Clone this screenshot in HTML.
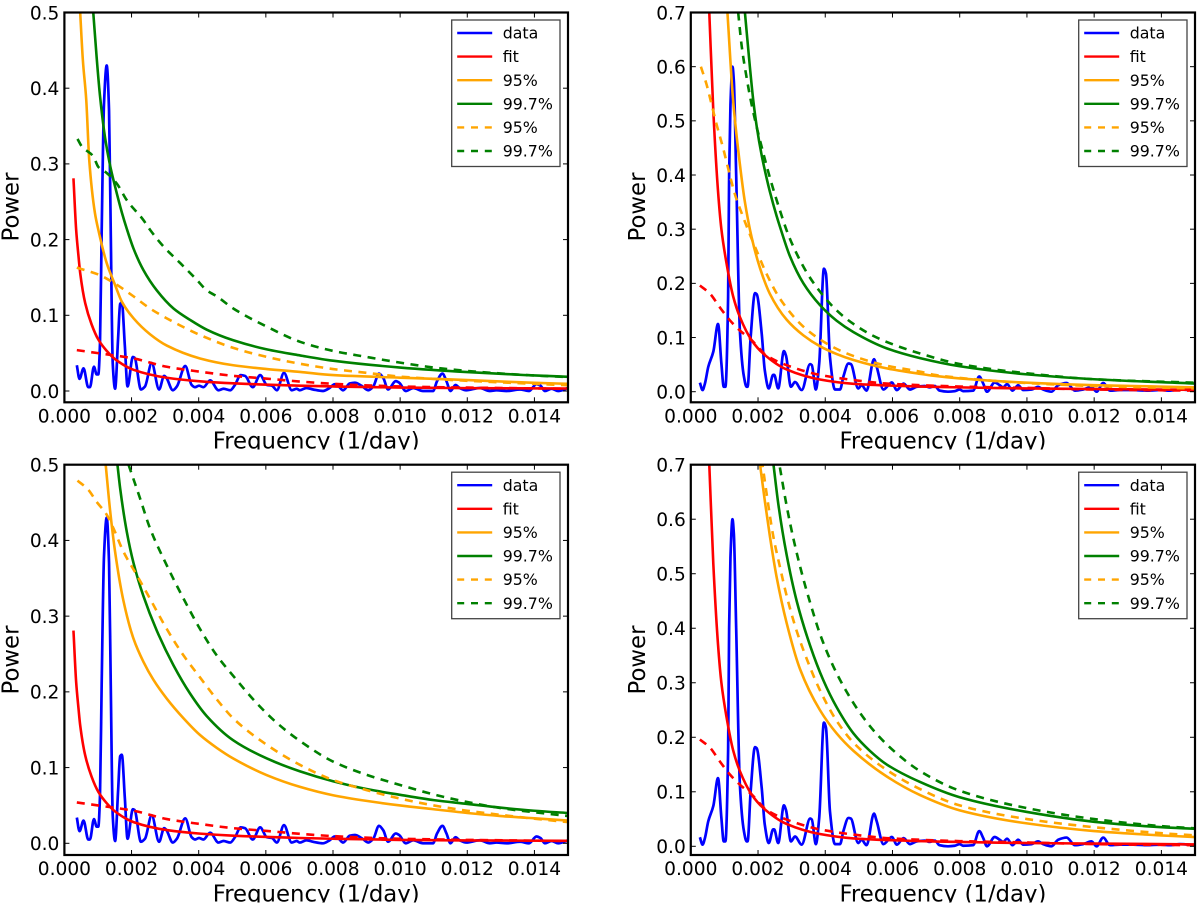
<!DOCTYPE html>
<html lang="en">
<head>
<meta charset="utf-8">
<title>Power spectra with significance levels</title>
<style>
html,body{margin:0;padding:0;background:#fff;width:1200px;height:907px;overflow:hidden}
svg{display:block;filter:blur(.35px)}
text{font-family:"DejaVu Sans","Liberation Sans",sans-serif;fill:#000}
</style>
</head>
<body>
<svg id="figure" xmlns="http://www.w3.org/2000/svg" width="1200" height="907" viewBox="0 0 1200 907"></svg>
<script>
// ---------- tick labels ----------
const xTickValues = [0, 0.002, 0.004, 0.006, 0.008, 0.010, 0.012, 0.014];
const xTickLabels = ["0.000", "0.002", "0.004", "0.006", "0.008", "0.010", "0.012", "0.014"];
const yTickValuesLeft = [0, 0.1, 0.2, 0.3, 0.4, 0.5];
const yTickLabelsLeft = ["0.0", "0.1", "0.2", "0.3", "0.4", "0.5"];
const yTickValuesRight = [0, 0.1, 0.2, 0.3, 0.4, 0.5, 0.6, 0.7];
const yTickLabelsRight = ["0.0", "0.1", "0.2", "0.3", "0.4", "0.5", "0.6", "0.7"];
const legendLabels = ["data", "fit", "95%", "99.7%", "95%", "99.7%"];

// ---------- data periodogram, left column ----------
const dataFreqLeft = [.00037,.00045,.00057,.00071,.00076,.00088,.00096,.00101,.00106,.00111,.00118,.00126,.00133,.00138,.00144,.00151,.00160,.00166,.00171,.00180,.00188,.00204,.00209,.00228,.0024,.0026,.00282,.00297,.00303,.00323,.00335,.0036,.00379,.00389,.00401,.00414,.00434,.00459,.00474,.00494,.00508,.00525,.00538,.00561,.00583,.00603,.00618,.00633,.00654,.00677,.00692,.00701,.00721,.00741,.0077,.0079,.00805,.00815,.0083,.0085,.00865,.00885,.00905,.0092,.00937,.0095,.00964,.00987,.00997,.01017,.01039,.01068,.01098,.0111,.01126,.01138,.0115,.01165,.01177,.01197,.01237,.01267,.01287,.01317,.01357,.01384,.01406,.01418,.01431,.01451,.01471,.015];
const dataPowerLeft = [.034,.016,.030,.005,.005,.032,.022,.022,.063,.21,.38,.43,.37,.212,.036,.003,.07,.115,.117,.06,.006,.045,.044,.002,.006,.037,.002,.020,.018,.001,.006,.033,.008,.005,.007,.005,.014,.001,.003,.001,.008,.021,.020,.005,.021,.008,.007,.001,.024,.001,.003,.001,.004,.002,.000,.004,.009,.007,.001,.010,.011,.007,.001,.006,.023,.017,.002,.013,.011,.000,.004,.000,.000,.013,.023,.013,.000,.008,.004,.001,.004,.000,.001,.000,.002,.000,.009,.007,.000,.003,.000,.004];

// ---------- data periodogram, right column ----------
const dataFreqRight = [.00027,.00035,.00042,.00052,.00067,.00081,.00091,.00098,.00103,.00111,.00114,.00118,.00124,.00128,.00135,.00146,.00158,.00166,.00169,.00178,.00191,.00196,.00211,.0022,.00232,.00245,.00248,.0026,.00277,.00283,.00298,.0031,.0033,.00355,.0036,.00372,.00382,.00396,.00402,.00414,.00429,.00444,.00454,.00469,.00476,.00498,.00508,.00523,.00545,.00553,.00573,.00598,.00613,.00633,.00652,.00672,.00696,.0071,.00726,.0074,.00765,.00785,.008,.0081,.0084,.00858,.0087,.00881,.00904,.00919,.00929,.00941,.00957,.00974,.00989,.01014,.01033,.01048,.01073,.01093,.01118,.01143,.01167,.01192,.01207,.01227,.01247,.01277,.01316,.01356,.01396,.01426,.01455,.015];
const dataPowerRight = [.0166,.003,.015,.046,.074,.125,.052,.009,.009,.175,.40,.53,.60,.574,.40,.113,.028,.009,.009,.10,.182,.18,.107,.04,.006,.031,.031,.006,.075,.067,.009,.018,.003,.051,.049,.004,.052,.227,.218,.064,.004,.004,.028,.052,.051,.006,.012,.002,.06,.046,.004,.017,.003,.015,.004,.009,.0105,.008,.0105,.002,.000,.001,.004,.001,.002,.028,.015,.000,.017,.012,.008,.014,.002,.012,.003,.004,.009,.004,.000,.012,.016,.002,.004,.009,.000,.016,.002,.003,.003,.002,.003,.002,.004,.002];

// ---------- fit curves ----------
const fitFreqLeft = [.00027,.00035,.00042,.00047,.00062,.00081,.00101,.00126,.00151,.00206,.00305,.00404,.00503,.00702,.008,.010,.012,.015];
const fitPowerLeft = [.281,.213,.178,.156,.116,.088,.068,.053,.042,.028,.0175,.0128,.0101,.007,.006,.0045,.0038,.0033];
const fitDashFreqLeft = [.00037,.00100,.00206,.00305,.00404,.00503,.00603,.00702,.008,.010,.012,.015];
const fitDashPowerLeft = [.054,.05,.043,.032,.0255,.02,.0163,.0125,.0095,.006,.0045,.003];
const fitFreqRight = [.00055,.00067,.00081,.00091,.00106,.00126,.00146,.00181,.00215,.00285,.00384,.00484,.00583,.00682,.008,.010,.012,.015];
const fitPowerRight = [.7,.518,.37,.30,.238,.176,.138,.095,.0706,.041,.0225,.0145,.0115,.0095,.008,.006,.005,.0035];
const fitDashFreqRight = [.00027,.00057,.00086,.00116,.00146,.00181,.00225,.00285,.00384,.00484,.00583,.00682,.008,.010,.012,.015];
const fitDashPowerRight = [.196,.181,.156,.132,.113,.095,.067,.049,.031,.0215,.015,.012,.0095,.007,.004,.002];

// ---------- panel A thresholds ----------
const orangeFreqA = [.00047,.00055,.00065,.00074,.00091,.00101,.00126,.00151,.00171,.00206,.00255,.00305,.00404,.00503,.00603,.00702,.008,.010,.012,.014,.015];
const orangePowerA = [.5,.437,.385,.305,.235,.213,.169,.14,.118,.096,.075,.06,.043,.034,.029,.0252,.021,.0176,.0145,.0108,.0095];
const greenFreqA = [.00086,.00096,.00106,.00121,.00136,.00151,.00171,.00186,.00206,.00235,.00275,.00325,.00374,.00424,.00503,.00603,.00702,.008,.010,.012,.014,.015];
const greenPowerA = [.5,.441,.39,.335,.298,.27,.236,.214,.188,.16,.133,.109,.094,.081,.067,.055,.047,.04,.031,.025,.0205,.0188];
const orangeDashFreqA = [.00037,.00106,.00141,.00171,.00206,.00255,.00305,.00404,.00503,.00603,.00702,.008,.009,.010,.011,.012,.014,.015];
const orangeDashPowerA = [.163,.153,.1445,.136,.125,.109,.096,.074,.057,.045,.036,.029,.024,.019,.016,.0135,.0095,.0075];
const greenDashFreqA = [.00039,.00052,.00086,.00101,.00126,.00156,.00186,.00235,.00255,.00295,.00345,.00394,.00424,.00454,.00503,.00603,.00702,.008,.009,.010,.011,.012,.014,.015];
const greenDashPowerA = [.333,.323,.31,.296,.288,.274,.252,.226,.213,.191,.169,.147,.133,.125,.109,.085,.065,.053,.045,.0375,.031,.0265,.0205,.0185];

// ---------- panel B thresholds ----------
const orangeFreqB = [.00109,.00126,.00146,.00161,.00181,.00206,.00235,.00285,.00335,.00384,.00434,.00484,.00583,.00682,.00721,.008,.010,.012,.015];
const orangePowerB = [.7,.537,.42,.35,.285,.228,.181,.133,.104,.084,.0695,.0585,.043,.033,.0295,.0245,.0166,.012,.008];
const greenFreqB = [.00161,.00176,.00186,.00196,.00211,.00226,.00235,.00255,.00265,.00295,.00335,.00384,.00434,.00484,.00583,.00682,.008,.010,.012,.015];
const greenPowerB = [.7,.598,.537,.49,.436,.393,.37,.325,.305,.25,.2,.16,.131,.11,.08,.062,.047,.032,.023,.015];
const orangeDashFreqB = [.0003,.00047,.00062,.00076,.00096,.00116,.00131,.00151,.00176,.00196,.00225,.00265,.00335,.00404,.00464,.00533,.00583,.00682,.00721,.008,.010,.012,.015];
const orangeDashPowerB = [.6,.567,.53,.495,.45,.4,.365,.33,.29,.26,.218,.172,.12,.089,.0706,.056,.048,.037,.0315,.0255,.016,.0105,.006];
const greenDashFreqB = [.00141,.00151,.00166,.00181,.0022,.0024,.00265,.00285,.00305,.00345,.00384,.00434,.00484,.00543,.00603,.00682,.008,.010,.012,.015];
const greenDashPowerB = [.7,.64,.58,.53,.43,.385,.335,.298,.268,.22,.185,.15,.125,.103,.087,.0706,.051,.034,.023,.0166];

// ---------- panel C thresholds ----------
const orangeFreqC = [.00123,.00136,.00151,.00176,.00206,.00235,.00265,.00305,.00355,.00404,.00454,.00503,.00603,.00702,.008,.009,.010,.011,.012,.013,.014,.015];
const orangePowerC = [.5,.44,.385,.32,.27,.24,.216,.191,.165,.143,.126,.112,.09,.0745,.0635,.056,.05,.045,.04,.036,.033,.03];
const greenFreqC = [.00158,.00166,.00186,.00206,.00235,.00275,.00325,.00374,.00424,.00503,.00603,.00702,.008,.009,.010,.011,.012,.013,.014,.015];
const greenPowerC = [.5,.469,.411,.37,.327,.281,.235,.198,.168,.136,.112,.095,.082,.0717,.064,.057,.052,.047,.043,.04];
const orangeDashFreqC = [.00039,.00071,.00096,.00126,.00146,.00176,.00216,.00255,.00305,.00355,.00404,.00454,.00503,.00603,.00702,.008,.009,.010,.011,.012,.013,.014,.015];
const orangeDashPowerC = [.479,.467,.451,.434,.416,.385,.354,.323,.283,.248,.219,.19,.165,.13,.1035,.0836,.0703,.059,.05,.043,.0375,.0325,.028];
const greenDashFreqC = [.00191,.00225,.00255,.00305,.00355,.00404,.00454,.00503,.00573,.00633,.00702,.008,.009,.010,.011,.012,.013,.014,.015];
const greenDashPowerC = [.5,.456,.416,.367,.323,.283,.248,.221,.185,.159,.135,.108,.0905,.077,.0645,.0545,.0465,.041,.036];

// ---------- panel D thresholds ----------
const orangeFreqD = [.00206,.00221,.00235,.00255,.00285,.00325,.00384,.00434,.00484,.00583,.00682,.008,.010,.012,.014,.015];
const orangePowerD = [.7,.63,.57,.495,.41,.325,.25,.207,.175,.128,.094,.066,.042,.028,.02,.017];
const greenFreqD = [.00246,.00261,.00285,.00315,.00355,.00394,.00434,.00484,.00533,.00583,.00682,.008,.010,.012,.014,.015];
const greenPowerD = [.7,.625,.535,.45,.368,.305,.255,.207,.175,.15,.118,.09,.063,.045,.035,.032];
const orangeDashFreqD = [.00211,.00226,.00245,.00265,.00285,.00315,.00355,.00374,.00404,.00434,.00484,.00583,.00682,.008,.010,.012,.014,.015];
const orangeDashPowerD = [.71,.645,.57,.513,.46,.395,.328,.30,.262,.23,.19,.14,.105,.075,.05,.035,.024,.02];
const greenDashFreqD = [.00265,.00285,.00305,.00335,.00355,.00384,.00424,.00464,.00503,.00553,.00613,.00682,.008,.010,.012,.014,.015];
const greenDashPowerD = [.695,.625,.565,.49,.447,.39,.33,.283,.245,.206,.17,.138,.102,.07,.05,.037,.033];

// ---------- drawing ----------
const NS = "http://www.w3.org/2000/svg";
const svg = document.getElementById("figure");
const COLORS = {blue:"#0000ff", red:"#ff0000", orange:"#ffa500", green:"#008000"};
const XMAX = 0.015;

function mk(tag, parent, attrs){
  const el = document.createElementNS(NS, tag);
  for (const k in attrs) el.setAttribute(k, attrs[k]);
  parent.appendChild(el);
  return el;
}

// monotone cubic path through the data points
function monotonePath(px, py){
  const n = px.length;
  if (n < 2) return "";
  const d = [], m = new Array(n).fill(0);
  for (let i = 0; i < n - 1; i++) d.push((py[i+1]-py[i])/(px[i+1]-px[i]));
  m[0] = d[0]; m[n-1] = d[n-2];
  for (let i = 1; i < n - 1; i++){
    if (d[i-1]*d[i] <= 0) m[i] = 0;
    else {
      const h0 = px[i]-px[i-1], h1 = px[i+1]-px[i];
      m[i] = 3*(h0+h1)/((2*h1+h0)/d[i-1] + (h1+2*h0)/d[i]);
    }
  }
  let s = "M" + px[0].toFixed(2) + " " + py[0].toFixed(2);
  for (let i = 0; i < n - 1; i++){
    const h = (px[i+1]-px[i])/3;
    s += "C" + (px[i]+h).toFixed(2) + " " + (py[i]+m[i]*h).toFixed(2) + " " +
         (px[i+1]-h).toFixed(2) + " " + (py[i+1]-m[i+1]*h).toFixed(2) + " " +
         px[i+1].toFixed(2) + " " + py[i+1].toFixed(2);
  }
  return s;
}

function drawPanel(cfg){
  const g = mk("g", svg, {});
  
  
  const w = cfg.right - cfg.left;
  const xOf = f => cfg.left + f / XMAX * w;
  const yOf = p => cfg.zero - p * (cfg.zero - cfg.top) / cfg.ymax;

  const clip = mk("clipPath", g, {id: cfg.id + "-clip"});
  mk("rect", clip, {x: cfg.left, y: cfg.top, width: w, height: cfg.bottom - cfg.top});
  const labelClip = mk("clipPath", g, {id: cfg.id + "-label-clip"});
  mk("rect", labelClip, {x: cfg.left, y: cfg.labelBase - 30, width: w, height: 31});

  const plot = mk("g", g, {"clip-path": "url(#" + cfg.id + "-clip)"});
  
  

  for (const s of cfg.series){
    const line = mk("path", plot, {
      d: monotonePath(s.f.map(xOf), s.p.map(yOf)),
      fill: "none", stroke: COLORS[s.color], "stroke-width": s.color === "blue" ? 2.7 : 2.6,
      "stroke-linejoin": "round", "stroke-dasharray": s.dash ? "8 6.5" : "none"
    });
    
    
  }

  // ticks and tick labels
  xTickValues.forEach((v, i) => {
    const x = xOf(v);
    if (i > 0){
      const t1 = mk("line", g, {x1: x, x2: x, y1: cfg.bottom, y2: cfg.bottom - 5, stroke: "#000", "stroke-width": 1});
      
      
      const t2 = mk("line", g, {x1: x, x2: x, y1: cfg.top, y2: cfg.top + 5, stroke: "#000", "stroke-width": 1});
      
      
    }
    const lab = mk("text", g, {x: x, y: cfg.tickBase, "text-anchor": "middle", "font-size": 18.6});
    lab.textContent = xTickLabels[i];
    
    
  });
  cfg.yTicks.forEach((v, i) => {
    const y = yOf(v);
    const t1 = mk("line", g, {x1: cfg.left, x2: cfg.left + 5, y1: y, y2: y, stroke: "#000", "stroke-width": 1});
    
    
    const t2 = mk("line", g, {x1: cfg.right, x2: cfg.right - 5, y1: y, y2: y, stroke: "#000", "stroke-width": 1});
    
    
    const lab = mk("text", g, {x: cfg.left - 5, y: y + 6.8, "text-anchor": "end", "font-size": 18.6});
    lab.textContent = cfg.yLabels[i];
    
    
  });

  // frame
  const frame = mk("rect", g, {x: cfg.left, y: cfg.top, width: w, height: cfg.bottom - cfg.top, fill: "none", stroke: "#000", "stroke-width": 2.2});
  
  

  // axis titles
  const xt = mk("text", g, {x: (cfg.left + cfg.right) / 2, y: cfg.labelBase, "text-anchor": "middle", "font-size": 22.8, "clip-path": "url(#" + cfg.id + "-label-clip)"});
  xt.textContent = "Frequency (1/day)";
  
  
  const yt = mk("text", g, {x: 0, y: 0, "text-anchor": "middle", "font-size": 22.8, transform: "translate(" + (cfg.left - 46) + " " + cfg.yTitleMid + ") rotate(-90)"});
  yt.textContent = "Power";
  
  

  // legend
  const leg = mk("g", g, {});
  
  
  const lx = cfg.right - 116.3, ly = cfg.top + 7.5;
  mk("rect", leg, {x: lx, y: ly, width: 108.3, height: 146.5, fill: "#fff", stroke: "#444", "stroke-width": 1.3});
  const legendColors = ["blue", "red", "orange", "green", "orange", "green"];
  legendLabels.forEach((txt, i) => {
    const y = ly + 13 + i * 23.6;
    const entry = mk("g", leg, {});
    
    
    mk("line", entry, {x1: lx + 5.5, x2: lx + 40.5, y1: y, y2: y, stroke: COLORS[legendColors[i]], "stroke-width": 2.4, "stroke-dasharray": i > 3 ? "7 6.8" : "none"});
    const t = mk("text", entry, {x: lx + 51, y: y + 5.6, "font-size": 15.8});
    t.textContent = txt;
    
    
  });
}

function seriesFor(side, key){
  const isLeft = side === "left";
  const A = window.__sets[key];
  return [
    {name:"data-line", color:"blue", f: isLeft ? dataFreqLeft : dataFreqRight, p: isLeft ? dataPowerLeft : dataPowerRight},
    {name:"fit-dashed-line", color:"red", dash:true, f: isLeft ? fitDashFreqLeft : fitDashFreqRight, p: isLeft ? fitDashPowerLeft : fitDashPowerRight},
    {name:"fit-line", color:"red", f: isLeft ? fitFreqLeft : fitFreqRight, p: isLeft ? fitPowerLeft : fitPowerRight},
    {name:"threshold-95-line", color:"orange", f: A[0], p: A[1]},
    {name:"threshold-99-7-line", color:"green", f: A[2], p: A[3]},
    {name:"threshold-95-dashed-line", color:"orange", dash:true, f: A[4], p: A[5]},
    {name:"threshold-99-7-dashed-line", color:"green", dash:true, f: A[6], p: A[7]}
  ];
}
window.__sets = {
  A: [orangeFreqA, orangePowerA, greenFreqA, greenPowerA, orangeDashFreqA, orangeDashPowerA, greenDashFreqA, greenDashPowerA],
  B: [orangeFreqB, orangePowerB, greenFreqB, greenPowerB, orangeDashFreqB, orangeDashPowerB, greenDashFreqB, greenDashPowerB],
  C: [orangeFreqC, orangePowerC, greenFreqC, greenPowerC, orangeDashFreqC, orangeDashPowerC, greenDashFreqC, greenDashPowerC],
  D: [orangeFreqD, orangePowerD, greenFreqD, greenPowerD, orangeDashFreqD, orangeDashPowerD, greenDashFreqD, greenDashPowerD]
};

drawPanel({id:"panel-top-left", left:64.4, right:568, top:12.5, bottom:402.3, zero:391, ymax:.5, tickBase:422.5, labelBase:448.5, yTitleMid:207,
  yTicks:yTickValuesLeft, yLabels:yTickLabelsLeft, series:seriesFor("left","A")});
drawPanel({id:"panel-top-right", left:690.8, right:1195, top:12.5, bottom:402.3, zero:391.7, ymax:.7, tickBase:422.5, labelBase:448.5, yTitleMid:207,
  yTicks:yTickValuesRight, yLabels:yTickLabelsRight, series:seriesFor("right","B")});
drawPanel({id:"panel-bottom-left", left:64.4, right:568, top:464.7, bottom:855, zero:843.3, ymax:.5, tickBase:875, labelBase:901.5, yTitleMid:660,
  yTicks:yTickValuesLeft, yLabels:yTickLabelsLeft, series:seriesFor("left","C")});
drawPanel({id:"panel-bottom-right", left:690.8, right:1195, top:464.7, bottom:855, zero:846.3, ymax:.7, tickBase:875, labelBase:901.5, yTitleMid:660,
  yTicks:yTickValuesRight, yLabels:yTickLabelsRight, series:seriesFor("right","D")});
</script>
</body>
</html>
